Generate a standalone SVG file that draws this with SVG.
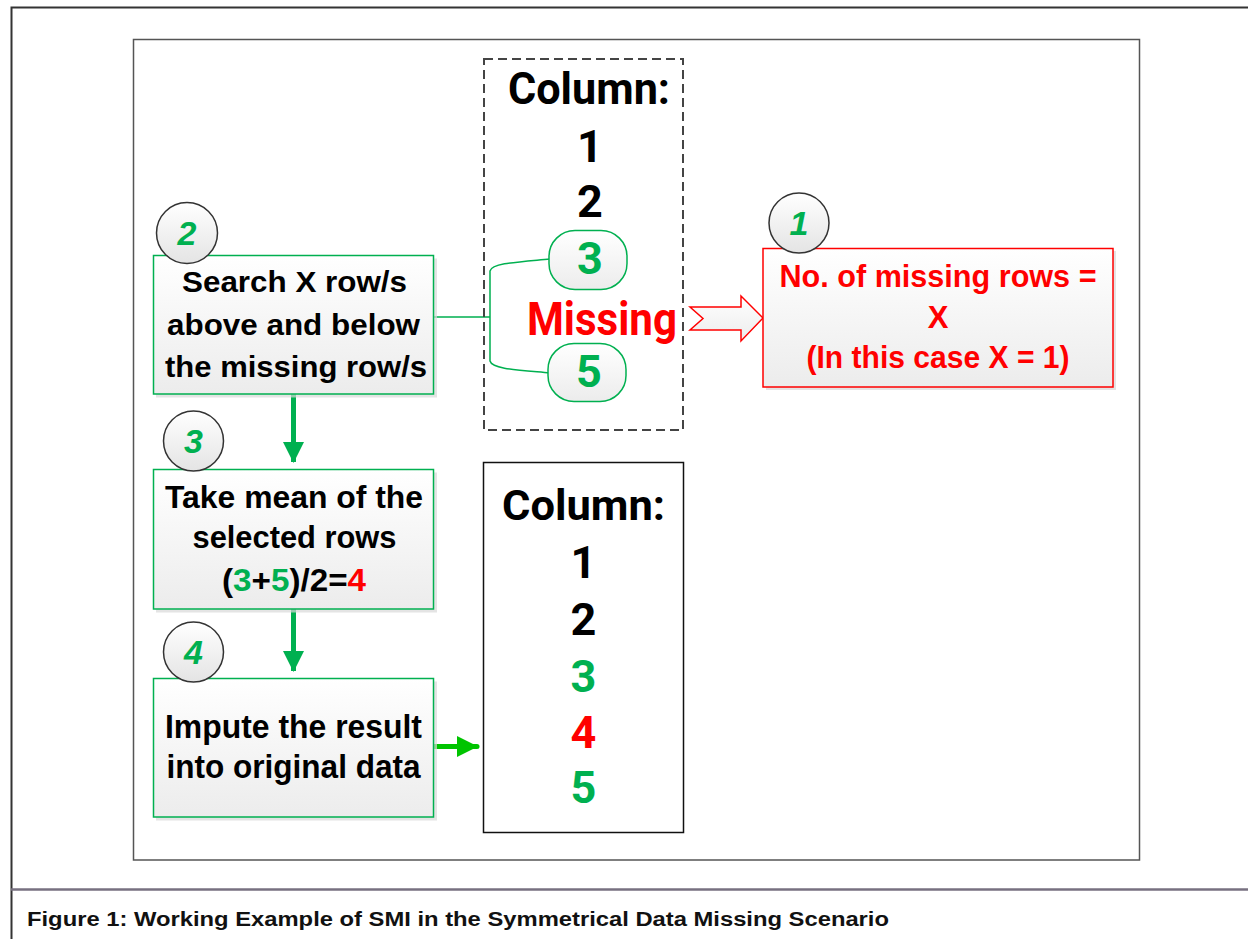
<svg xmlns="http://www.w3.org/2000/svg" width="1248" height="939" viewBox="0 0 1248 939">
<defs>
<linearGradient id="boxg" x1="0" y1="0" x2="0" y2="1">
<stop offset="0" stop-color="#ffffff"/>
<stop offset="1" stop-color="#ececec"/>
</linearGradient>
<linearGradient id="cirg" x1="0" y1="0" x2="0" y2="1">
<stop offset="0" stop-color="#ffffff"/>
<stop offset="1" stop-color="#e4e4e4"/>
</linearGradient>
<marker id="ahG" markerWidth="4.2" markerHeight="4.2" refX="4" refY="2.1" orient="auto" markerUnits="strokeWidth">
<path d="M0,0 L4.2,2.1 L0,4.2 Z" fill="#00b050"/>
</marker>
<marker id="ahL" markerWidth="4.2" markerHeight="4.2" refX="4" refY="2.1" orient="auto" markerUnits="strokeWidth">
<path d="M0,0 L4.2,2.1 L0,4.2 Z" fill="#00c400"/>
</marker>
</defs>
<style>
.t{font-family:"Liberation Sans",Arial,sans-serif;font-weight:bold;text-anchor:middle}
.c{font-family:Roboto,"Liberation Sans",sans-serif;font-weight:bold;text-anchor:middle}
.num{font-family:"Liberation Sans",Arial,sans-serif;font-weight:bold;font-style:italic;text-anchor:middle;fill:#00b050;font-size:34px}
.gbox{fill:url(#boxg);stroke:#00b050;stroke-width:1.5}
.rbox{fill:url(#boxg);stroke:#ff0000;stroke-width:1.5}
.shadow{fill:#d8d8d8;opacity:0.7}
.circ{fill:url(#cirg);stroke:#333;stroke-width:1.5}
.g{fill:#00b050}
.r{fill:#ff0000}
.k{fill:#000}
</style>
<rect width="1248" height="939" fill="#ffffff"/>
<!-- frame -->
<g id="frame" fill="none">
<path d="M11.5,939 V7.5 H1248" stroke="#333" stroke-width="2"/>
<path d="M11,889.5 H1248" stroke="#777080" stroke-width="2.5"/>
<rect x="133.5" y="39.5" width="1006" height="820.5" stroke="#555" stroke-width="1.5"/>
</g>
<text x="27" y="926" font-family="'Liberation Sans',Arial,sans-serif" font-weight="bold" font-size="20" textLength="862" lengthAdjust="spacingAndGlyphs" fill="#111">Figure 1: Working Example of SMI in the Symmetrical Data Missing Scenario</text>

<!-- connectors -->
<g id="connectors" fill="none">
<path d="M433,317 H490 M550,259 C518,262 492,263 490,271 V361 C492,369 518,370 550,373" stroke="#00b050" stroke-width="1.5"/>
<line x1="293.5" y1="394" x2="293.5" y2="462" stroke="#00b050" stroke-width="5" marker-end="url(#ahG)"/>
<line x1="293.5" y1="609" x2="293.5" y2="671" stroke="#00b050" stroke-width="5" marker-end="url(#ahG)"/>
<line x1="432" y1="746.5" x2="477" y2="746.5" stroke="#00c400" stroke-width="5" stroke-linecap="round" marker-end="url(#ahL)"/>
<path d="M690,307 L741,307 L741,296 L763,318 L741,341 L741,330 L690,330 L703,318.5 Z" fill="url(#boxg)" stroke="#ff0000" stroke-width="1.5"/>
</g>

<!-- dashed column box -->
<g id="column-missing">
<rect x="484" y="59" width="199" height="371" fill="none" stroke="#444" stroke-width="2" stroke-dasharray="9,5"/>
<text class="c k" x="589" y="104" font-size="44" textLength="162" lengthAdjust="spacingAndGlyphs">Column:</text>
<text class="c k" x="590" y="162" font-size="45">1</text>
<text class="c k" x="590" y="217" font-size="45">2</text>
<g id="pill3">
<rect x="549" y="230.5" width="78" height="59" rx="26" fill="url(#boxg)" stroke="#00b050" stroke-width="1.5"/>
<text class="c g" x="590" y="274" font-size="45">3</text>
</g>
<text class="c r" x="602" y="335" font-size="46" textLength="150" lengthAdjust="spacingAndGlyphs">Missing</text>
<g id="pill5">
<rect x="548" y="343.5" width="78" height="58" rx="26" fill="url(#boxg)" stroke="#00b050" stroke-width="1.5"/>
<text class="c g" x="589" y="387" font-size="45">5</text>
</g>
</g>

<!-- step 1 -->
<g id="step1">
<rect class="shadow" x="766" y="251" width="350" height="139"/>
<rect class="rbox" x="763" y="248.5" width="350" height="138.5"/>
<text class="t r" x="938" y="287" font-size="31" textLength="317" lengthAdjust="spacingAndGlyphs">No. of missing rows =</text>
<text class="t r" x="938" y="328" font-size="31">X</text>
<text class="t r" x="938" y="368" font-size="31" textLength="263" lengthAdjust="spacingAndGlyphs">(In this case X = 1)</text>
<circle class="circ" cx="799" cy="223" r="30"/>
<text class="num" x="799" y="235">1</text>
</g>

<!-- step 2 -->
<g id="step2">
<rect class="shadow" x="156" y="258.5" width="281" height="139"/>
<rect class="gbox" x="153.5" y="255.5" width="280" height="138.5"/>
<text class="t k" x="294.5" y="292" font-size="30" textLength="225" lengthAdjust="spacingAndGlyphs">Search X row/s</text>
<text class="t k" x="293.5" y="335" font-size="30" textLength="253" lengthAdjust="spacingAndGlyphs">above and below</text>
<text class="t k" x="296" y="377" font-size="30" textLength="262" lengthAdjust="spacingAndGlyphs">the missing row/s</text>
<circle class="circ" cx="187" cy="233" r="30.5"/>
<text class="num" x="187" y="245">2</text>
</g>

<!-- step 3 -->
<g id="step3">
<rect class="shadow" x="156" y="472.5" width="281" height="140"/>
<rect class="gbox" x="153.5" y="469.5" width="280" height="139.5"/>
<text class="t k" x="294" y="508" font-size="31" textLength="258" lengthAdjust="spacingAndGlyphs">Take mean of the</text>
<text class="t k" x="294.5" y="548" font-size="31" textLength="204" lengthAdjust="spacingAndGlyphs">selected rows</text>
<text class="t k" x="294" y="591" font-size="31" textLength="144" lengthAdjust="spacingAndGlyphs">(<tspan class="g">3</tspan>+<tspan class="g">5</tspan>)/2=<tspan class="r">4</tspan></text>
<circle class="circ" cx="193.5" cy="441" r="30"/>
<text class="num" x="193.5" y="453">3</text>
</g>

<!-- step 4 -->
<g id="step4">
<rect class="shadow" x="156" y="681.5" width="281" height="139"/>
<rect class="gbox" x="153.5" y="678.5" width="280" height="138.5"/>
<text class="t k" x="293.5" y="738" font-size="34" textLength="257" lengthAdjust="spacingAndGlyphs">Impute the result</text>
<text class="t k" x="293.5" y="778" font-size="34" textLength="254" lengthAdjust="spacingAndGlyphs">into original data</text>
<circle class="circ" cx="193.5" cy="652" r="30"/>
<text class="num" x="193.5" y="664">4</text>
</g>

<!-- result column -->
<g id="column-result">
<rect x="483.5" y="462.5" width="200" height="370" fill="#fff" stroke="#111" stroke-width="1.5"/>
<text class="c k" x="583.5" y="520" font-size="43" textLength="163" lengthAdjust="spacingAndGlyphs">Column:</text>
<text class="c k" x="583.5" y="578" font-size="45">1</text>
<text class="c k" x="583.5" y="635" font-size="45">2</text>
<text class="c g" x="583.5" y="692" font-size="45">3</text>
<text class="c r" x="583.5" y="748" font-size="45">4</text>
<text class="c g" x="583.5" y="803" font-size="45">5</text>
</g>
</svg>
